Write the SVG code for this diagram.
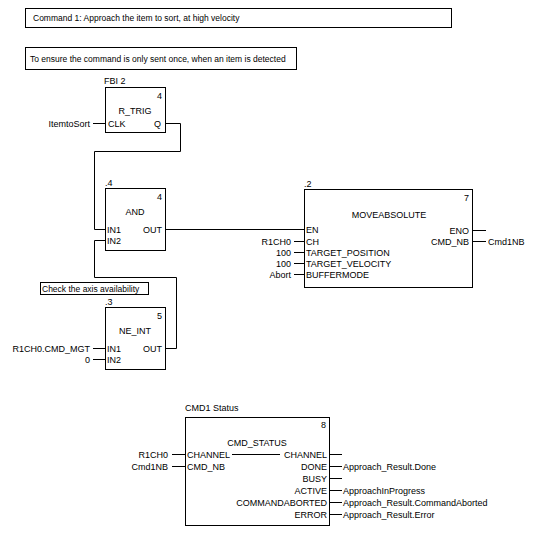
<svg xmlns="http://www.w3.org/2000/svg" width="552" height="540" viewBox="0 0 552 540">
<style>
.b{fill:#fff;stroke:#000;stroke-width:1}
.w{fill:none;stroke:#000;stroke-width:1}
text{font-family:"Liberation Sans",Arial,sans-serif;font-size:9px;fill:#000}
.c{font-size:8.5px}
.m{text-anchor:middle}
.e{text-anchor:end}
</style>
<rect width="552" height="540" fill="#fff"/>
<g id="comment1">
<rect class="b" x="25.5" y="8.5" width="426" height="19"/>
<text class="c" x="33" y="20.5">Command 1: Approach the item to sort, at high velocity</text>
</g>
<g id="comment2">
<rect class="b" x="25.5" y="47.5" width="271" height="22"/>
<text class="c" x="30" y="61.5">To ensure the command is only sent once, when an item is detected</text>
</g>
<g id="comment3">
<rect class="b" x="40.5" y="282.5" width="108" height="12"/>
<text class="c" x="42" y="291.5">Check the axis availability</text>
</g>
<g id="connectors">
<polyline class="w" points="166,123.5 180.5,123.5 180.5,151.5 94.5,151.5 94.5,229.5 106,229.5"/>
<polyline class="w" points="106,240.5 94.5,240.5 94.5,277.5 176.5,277.5 176.5,348.5 166,348.5"/>
<line class="w" x1="166" y1="229.5" x2="305" y2="229.5"/>
<line class="w" x1="93" y1="123.5" x2="105" y2="123.5"/>
<line class="w" x1="93" y1="348.5" x2="105" y2="348.5"/>
<line class="w" x1="93" y1="359.5" x2="105" y2="359.5"/>
<line class="w" x1="294" y1="241.5" x2="304" y2="241.5"/>
<line class="w" x1="294" y1="252.5" x2="304" y2="252.5"/>
<line class="w" x1="294" y1="263.5" x2="304" y2="263.5"/>
<line class="w" x1="294" y1="274.5" x2="304" y2="274.5"/>
<line class="w" x1="473" y1="230.5" x2="486" y2="230.5"/>
<line class="w" x1="473" y1="241.5" x2="486" y2="241.5"/>
<line class="w" x1="172" y1="454.5" x2="185" y2="454.5"/>
<line class="w" x1="172" y1="466.5" x2="185" y2="466.5"/>
<line class="w" x1="330" y1="454.5" x2="342" y2="454.5"/>
<line class="w" x1="330" y1="466.5" x2="342" y2="466.5"/>
<line class="w" x1="330" y1="478.5" x2="342" y2="478.5"/>
<line class="w" x1="330" y1="490.5" x2="342" y2="490.5"/>
<line class="w" x1="330" y1="502.5" x2="342" y2="502.5"/>
<line class="w" x1="330" y1="514.5" x2="342" y2="514.5"/>
</g>
<g id="rtrig">
<text x="104" y="84">FBI 2</text>
<rect class="b" x="105.5" y="87.5" width="60" height="45"/>
<text class="e" x="162" y="99">4</text>
<text class="m" x="135" y="114">R_TRIG</text>
<text x="108" y="126.5">CLK</text>
<text class="e" x="161" y="126.5">Q</text>
<text class="e" x="90" y="126.5">ItemtoSort</text>
</g>
<g id="and">
<text x="105" y="186">.4</text>
<rect class="b" x="105.5" y="188.5" width="60" height="62"/>
<text class="e" x="162" y="200">4</text>
<text class="m" x="135" y="215">AND</text>
<text x="107" y="232.5">IN1</text>
<text x="107" y="243.5">IN2</text>
<text class="e" x="162" y="232.5">OUT</text>
</g>
<g id="neint">
<text x="105" y="305">.3</text>
<rect class="b" x="105.5" y="307.5" width="60" height="62"/>
<text class="e" x="162" y="319">5</text>
<text class="m" x="135" y="334">NE_INT</text>
<text x="107" y="351.5">IN1</text>
<text x="107" y="362.5">IN2</text>
<text class="e" x="162" y="351.5">OUT</text>
<text class="e" x="90" y="351.5">R1CH0.CMD_MGT</text>
<text class="e" x="90" y="362.5">0</text>
</g>
<g id="moveabsolute">
<text x="304" y="187">.2</text>
<rect class="b" x="304.5" y="189.5" width="168" height="98"/>
<text class="e" x="469" y="201">7</text>
<text class="m" x="389" y="218">MOVEABSOLUTE</text>
<text x="306" y="233">EN</text>
<text x="306" y="244.5">CH</text>
<text x="306" y="255.5">TARGET_POSITION</text>
<text x="306" y="266.5">TARGET_VELOCITY</text>
<text x="306" y="277.5">BUFFERMODE</text>
<text class="e" x="469" y="233.5">ENO</text>
<text class="e" x="469" y="244.5">CMD_NB</text>
<text class="e" x="291" y="244.5">R1CH0</text>
<text class="e" x="291" y="255.5">100</text>
<text class="e" x="291" y="266.5">100</text>
<text class="e" x="291" y="277.5">Abort</text>
<text x="488" y="244.5">Cmd1NB</text>
</g>
<g id="cmdstatus">
<text x="185" y="411">CMD1  Status</text>
<rect class="b" x="185.5" y="417.5" width="144" height="108"/>
<text class="e" x="326" y="428">8</text>
<text class="m" x="257" y="446">CMD_STATUS</text>
<text x="187" y="457.5">CHANNEL</text>
<text x="187" y="469.5">CMD_NB</text>
<line class="w" x1="232" y1="454.5" x2="280" y2="454.5"/>
<text class="e" x="327" y="457.5">CHANNEL</text>
<text class="e" x="327" y="469.5">DONE</text>
<text class="e" x="327" y="481.5">BUSY</text>
<text class="e" x="327" y="493.5">ACTIVE</text>
<text class="e" x="327" y="505.5">COMMANDABORTED</text>
<text class="e" x="327" y="517.5">ERROR</text>
<text class="e" x="168" y="457.5">R1CH0</text>
<text class="e" x="168" y="469.5">Cmd1NB</text>
<text x="343" y="469.5">Approach_Result.Done</text>
<text x="343" y="493.5">ApproachInProgress</text>
<text x="343" y="505.5">Approach_Result.CommandAborted</text>
<text x="343" y="517.5">Approach_Result.Error</text>
</g>
</svg>
